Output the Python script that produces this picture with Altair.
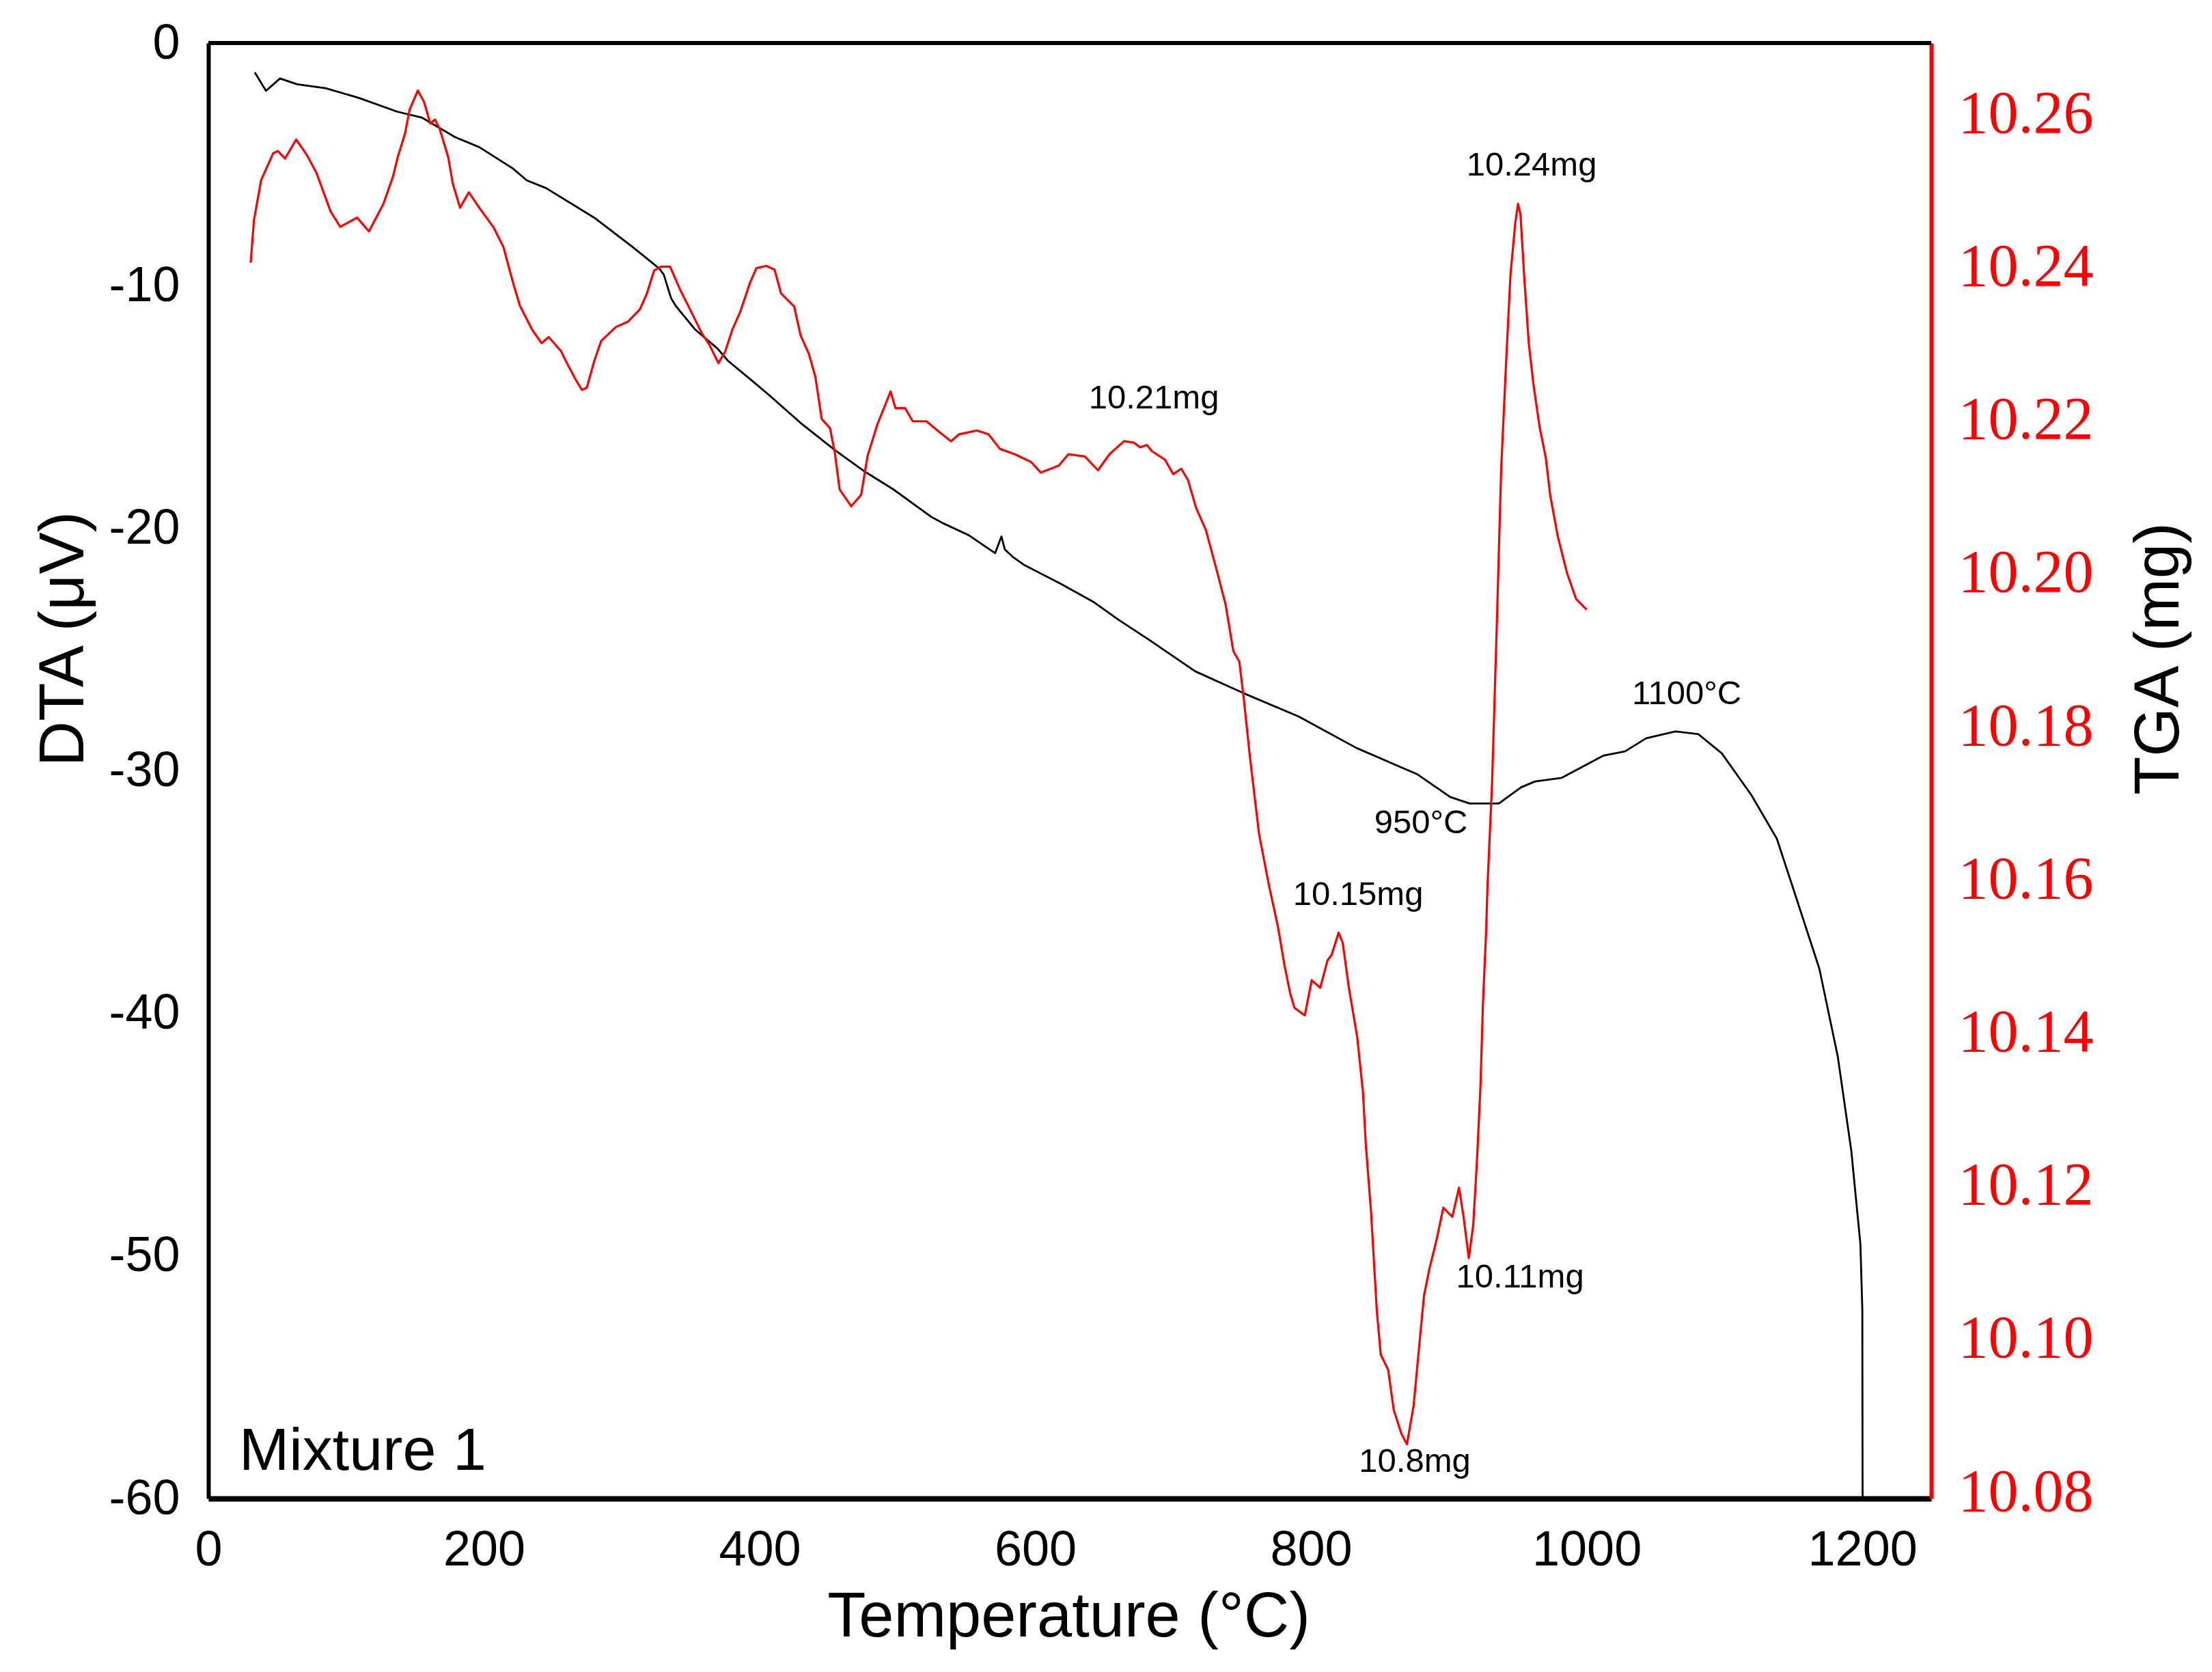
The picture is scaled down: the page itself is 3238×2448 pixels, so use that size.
import altair as alt
import pandas as pd

# ---------------- data ----------------
dta_temp = [33.7, 41.8, 52, 64.4, 85, 109.6, 137, 154.8, 179, 196.5, 220.9, 231, 245, 280,
            307.8, 327, 330.4, 335.6, 339, 353, 369.3, 377, 394, 407, 430.7, 454.5, 475.8,
            497, 524.4, 532.8, 551.7, 570.8, 575.4, 577.9, 584, 592, 618, 641.9, 660.7,
            682.8, 716, 751, 791, 833, 877.3, 901, 915, 936.3, 952.5, 962.6, 981.9, 1012,
            1027.8, 1043.2, 1064.5, 1081, 1098, 1119.5, 1138, 1149.3, 1168.8, 1182.2, 1192,
            1198.6, 1200, 1200.2]
dta_val = [-1.21, -1.97, -1.46, -1.70, -1.86, -2.27, -2.83, -3.07, -3.88, -4.29, -5.17, -5.66,
           -5.98, -7.2, -8.41, -9.29, -9.54, -10.5, -10.83, -11.8, -12.59, -13.1, -13.9, -14.52,
           -15.71, -16.78, -17.65, -18.4, -19.53, -19.79, -20.29, -21.03, -20.34, -20.88, -21.2,
           -21.52, -22.28, -23.03, -23.79, -24.61, -25.9, -26.8, -27.76, -29.06, -30.15, -31.08,
           -31.35, -31.35, -30.68, -30.44, -30.29, -29.38, -29.2, -28.66, -28.38, -28.49, -29.28,
           -31.0, -32.8, -34.76, -38.15, -41.78, -45.66, -49.5, -52.2, -60.0]

tga_temp = [30.7, 33.1, 38.3, 47, 50.5, 55.6, 63.7, 71.4, 78.3, 88.7, 95.7, 107.9, 116.5, 127,
            134, 137.4, 142.7, 146, 152, 156.5, 161, 164.5, 168, 174, 177.4, 182.6, 189, 196.5,
            207, 214, 220.9, 226, 234.8, 241.7, 246.9, 255.7, 260.7, 266, 271, 274.6, 280, 285,
            295.6, 304.3, 313, 318, 323.4, 328.6, 335, 342.5, 349.5, 358, 363.5, 370, 375, 380,
            385.9, 393, 397.6, 404.8, 410.8, 415.5, 425, 429.7, 435.7, 440.4, 445, 451, 454.5,
            458, 466.4, 473.6, 478.3, 485.4, 495, 498.5, 505.6, 511, 521, 530.3, 538.8, 544.7,
            557.6, 566, 574.3, 585, 596.8, 604, 617, 624, 636, 645.4, 653.8, 664.4, 671.6, 676,
            681, 684.5, 694, 700, 705.9, 710.8, 716.6, 723.7, 730.6, 738, 743.6, 748, 751.2,
            755.6, 762.3, 769.8, 776, 780.9, 785, 788, 795.5, 800.5, 806.7, 812, 815, 820, 823,
            827.3, 833.5, 837.7, 839.7, 843.6, 847.8, 850.6, 856, 860, 865.5, 869.6, 874.5,
            878.7, 882, 886, 891, 896, 902.5, 907.4, 910.7, 914.5, 917.7, 920.5, 923, 924.7,
            927.2, 928, 931.4, 934.8, 938, 941.5, 944.7, 948.2, 950.2, 952, 954.6, 958, 961.4,
            965.8, 970.3, 973.5, 979, 985.7, 992.3, 1000]
tga_val = [10.2406, 10.2462, 10.2514, 10.2549, 10.2552, 10.2542, 10.2567, 10.2547, 10.2524,
           10.2473, 10.2453, 10.2465, 10.2447, 10.2483, 10.2519, 10.2544, 10.2575, 10.2606,
           10.2631, 10.2616, 10.2588, 10.2593, 10.2580, 10.2544, 10.2509, 10.2478, 10.2498,
           10.2478, 10.2452, 10.2427, 10.2381, 10.2350, 10.2319, 10.2301, 10.2309, 10.2291,
           10.2273, 10.2255, 10.2240, 10.2243, 10.2278, 10.2304, 10.2322, 10.2329, 10.2345,
           10.2365, 10.2396, 10.2401, 10.2401, 10.2370, 10.2345, 10.2314, 10.2299, 10.2275,
           10.2290, 10.2318, 10.2342, 10.2380, 10.2399, 10.2402, 10.2397, 10.2366, 10.2349,
           10.2311, 10.2287, 10.2257, 10.2202, 10.2190, 10.2158, 10.2110, 10.2088, 10.2103,
           10.2154, 10.2195, 10.2238, 10.2216, 10.2216, 10.2199, 10.2199, 10.2185, 10.2173,
           10.2182, 10.2187, 10.2182, 10.2163, 10.2156, 10.2146, 10.2132, 10.2141, 10.2156,
           10.2153, 10.2135, 10.2156, 10.2173, 10.2171, 10.2165, 10.2168, 10.2160, 10.2149,
           10.2130, 10.2137, 10.2122, 10.2086, 10.2057, 10.2011, 10.1960, 10.1899, 10.1885,
           10.1837, 10.1762, 10.1660, 10.1590, 10.1539, 10.1487, 10.1451, 10.1433, 10.1423,
           10.1469, 10.1459, 10.1495, 10.1502, 10.1531, 10.1518, 10.1461, 10.1395, 10.1323,
           10.1256, 10.1165, 10.1036, 10.0980, 10.0960, 10.0908, 10.0877, 10.0863, 10.0914,
           10.0995, 10.1057, 10.1093, 10.1129, 10.1172, 10.1160, 10.1198, 10.1160, 10.1106,
           10.1149, 10.1236, 10.1333, 10.1436, 10.1539, 10.1590, 10.1728, 10.1933, 10.2138,
           10.2274, 10.2390, 10.2458, 10.2483, 10.2469, 10.2390, 10.2301, 10.2247, 10.2192,
           10.2152, 10.2103, 10.2049, 10.2001, 10.1967, 10.1953]

x_ticks = [0, 200, 400, 600, 800, 1000, 1200]
dta_ticks = [-60, -50, -40, -30, -20, -10, 0]
tga_ticks = [10.08, 10.10, 10.12, 10.14, 10.16, 10.18, 10.20, 10.22, 10.24, 10.26]

ann_text = ["10.24mg", "10.21mg", "950°C", "1100°C", "10.15mg", "10.11mg", "10.8mg"]
ann_temp = [960.1, 686.0, 879.8, 1072.6, 834.2, 951.7, 875.3]
ann_dta = [-5.46, -15.06, -32.58, -27.25, -35.53, -51.3, -58.9]

panel_label = ["Mixture 1"]
panel_temp = [22.3]
panel_dta = [-58.82]

# ---------------- layout ----------------
W, H = 2522, 2131
SANS = "Liberation Sans"
SERIF = "Liberation Serif"

dta_df = pd.DataFrame({"T": dta_temp, "DTA": dta_val})
tga_df = pd.DataFrame({"T": tga_temp, "TGA": tga_val})
ann_df = pd.DataFrame({"T": ann_temp, "DTA": ann_dta, "label": ann_text})
panel_df = pd.DataFrame({"T": panel_temp, "DTA": panel_dta, "label": panel_label})

x_scale = alt.Scale(domain=[0, 1250], nice=False, zero=False)
dta_scale = alt.Scale(domain=[-60, 0], nice=False, zero=False)
tga_scale = alt.Scale(domain=[10.0792, 10.2693], nice=False, zero=False)

x_axis = alt.Axis(
    values=x_ticks, ticks=False, tickSize=0, grid=False, labelFlush=False, labelOverlap=False,
    labelLimit=1000, labelExpr="toString(datum.value)",
    labelFont=SANS, labelFontSize=72, labelColor="black", labelPadding=40,
    domainColor="black", domainWidth=8,
    title="Temperature (°C)", titleFont=SANS, titleFontSize=92, titleFontWeight="normal",
    titleColor="black", titleX=1259, titleY=201, titleAngle=0, titleAlign="center",
    titleBaseline="alphabetic", titleLimit=3000,
)
dta_axis = alt.Axis(
    values=dta_ticks, ticks=False, tickSize=0, grid=False, labelFlush=False, labelOverlap=False,
    labelLimit=1000, labelExpr="toString(datum.value)",
    labelFont=SANS, labelFontSize=72, labelColor="black", labelPadding=42,
    domainColor="black", domainWidth=6,
    title="DTA (μV)", titleFont=SANS, titleFontSize=92, titleFontWeight="normal",
    titleColor="black", titleX=-184, titleY=872, titleAngle=270, titleAlign="center",
    titleBaseline="alphabetic", titleLimit=3000,
)
tga_axis = alt.Axis(
    orient="right", values=tga_ticks, format=".2f", ticks=False, tickSize=0, grid=False,
    labelFlush=False, labelOverlap=False, labelLimit=1000,
    labelFont=SERIF, labelFontSize=88, labelColor="#FF0000", labelPadding=39,
    domainColor="#FF0000", domainWidth=6,
    title="TGA (mg)", titleFont=SANS, titleFontSize=92, titleFontWeight="normal",
    titleColor="black", titleX=361, titleY=901, titleAngle=270, titleAlign="center",
    titleBaseline="alphabetic", titleLimit=3000,
)

X_ENC = alt.X("T:Q", scale=x_scale, axis=x_axis, title="Temperature (°C)")
Y_DTA = alt.Y("DTA:Q", scale=dta_scale, axis=dta_axis, title="DTA (μV)")

top_border = alt.Chart(dta_df).mark_rule(color="black", strokeWidth=6).encode(
    x=alt.value(0), x2=alt.value(W), y=alt.value(0)
)

dta_line = alt.Chart(dta_df).mark_line(color="black", strokeWidth=2.8, strokeJoin="round").encode(
    x=X_ENC,
    y=Y_DTA,
    order="index:Q",
).transform_window(index="row_number()")

ann = alt.Chart(ann_df).mark_text(
    font=SANS, fontSize=49, color="black", align="center", baseline="alphabetic"
).encode(
    x=X_ENC,
    y=Y_DTA,
    text="label:N",
)

panel = alt.Chart(panel_df).mark_text(
    font=SANS, fontSize=88, color="black", align="left", baseline="alphabetic"
).encode(
    x=X_ENC,
    y=Y_DTA,
    text="label:N",
)

left = alt.layer(dta_line, ann, panel, top_border)

tga_line = alt.Chart(tga_df).mark_line(color="#FF0000", strokeWidth=3.2, strokeJoin="round").encode(
    x=X_ENC,
    y=alt.Y("TGA:Q", scale=tga_scale, axis=tga_axis, title="TGA (mg)"),
    order="index:Q",
).transform_window(index="row_number()")

chart = alt.layer(left, tga_line).resolve_scale(y="independent").properties(
    width=W, height=H,
    padding={"left": 297, "top": 55, "right": 403, "bottom": 246},
    autosize=alt.AutoSizeParams(type="none"),
    background="white",
).configure_view(strokeWidth=0)

chart.save("out.html", embed_options={"renderer": "svg", "actions": False})
